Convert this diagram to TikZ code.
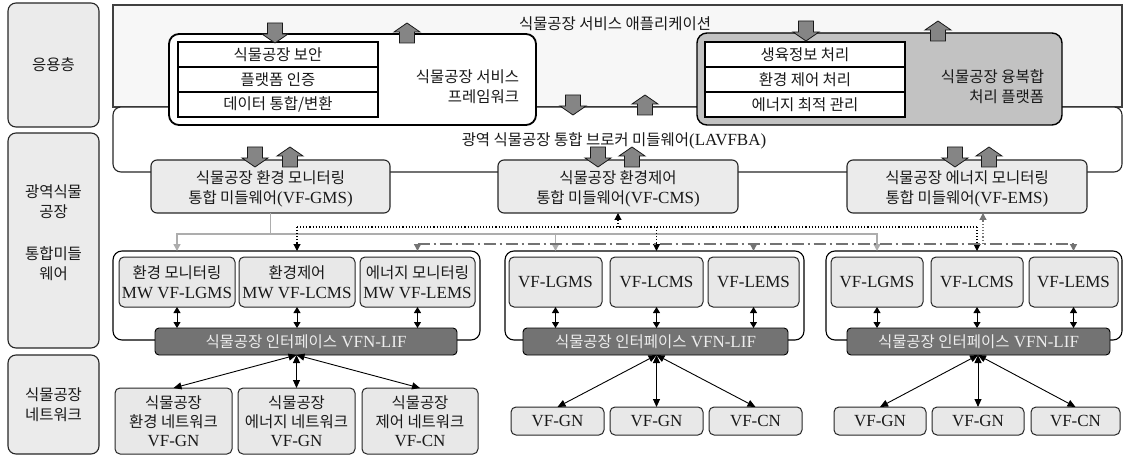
\documentclass[tikz,border=0pt]{standalone}
\usepackage{fontspec}
\setmainfont{Liberation Serif}
\newfontfamily\kr[Scale=0.91]{Noto Sans CJK KR}
\usetikzlibrary{arrows.meta}
\newcommand\Kor[1]{{\kr #1}}
% \bnode{style}{name}{x1}{y1}{x2}{y2}{text}
\newcommand\bnode[7]{%
  \pgfmathsetmacro\rbw{#5-#3}\pgfmathsetmacro\rbh{#6-#4}%
  \pgfmathsetmacro\rbx{(#3+#5)/2}\pgfmathsetmacro\rby{(#4+#6)/2}%
  \node[#1, minimum width=\rbw pt, minimum height=\rbh pt] (#2) at (\rbx,\rby) {#7};}
% block arrows: x, top y, bottom y
\newcommand\blkdown[3]{\draw[blk] ({#1-7.5},#2) -- ({#1+7.5},#2) -- ({#1+7.5},{#3-9}) -- ({#1+13},{#3-9}) -- (#1,#3) -- ({#1-13},{#3-9}) -- ({#1-7.5},{#3-9}) -- cycle;}
\newcommand\blkup[3]{\draw[blk] (#1,#2) -- ({#1+13},{#2+9}) -- ({#1+7.5},{#2+9}) -- ({#1+7.5},#3) -- ({#1-7.5},#3) -- ({#1-7.5},{#2+9}) -- ({#1-13},{#2+9}) -- cycle;}
\begin{document}
\begin{tikzpicture}[x=1pt,y=-1pt,
  base/.style={inner sep=0pt, outer sep=0pt, align=center, text=black!90, font=\fontsize{17}{20}\selectfont},
  txt/.style={base},
  lbox/.style={base, draw=black!85, line width=1.1pt, rounded corners=8pt, fill=black!8},
  appbox/.style={base, draw=black!75, line width=1.1pt, fill=black!3},
  brkbox/.style={base, draw=black!85, line width=1.1pt, rounded corners=8pt, fill=white},
  svcbox/.style={base, draw=black, line width=1.8pt, rounded corners=10pt, fill=white},
  platbox/.style={base, draw=black, line width=1.4pt, rounded corners=10pt, fill=black!24},
  tab/.style={base, draw=black, line width=1.1pt, fill=white},
  mwbox/.style={base, draw=black!85, line width=1.1pt, rounded corners=6pt, fill=black!8},
  grpbox/.style={base, draw=black, line width=1.1pt, rounded corners=9pt, fill=white},
  cbox/.style={base, draw=black!85, line width=1pt, rounded corners=5pt, fill=black!9},
  netbox/.style={cbox, font=\fontsize{17}{19}\selectfont},
  lifbar/.style={base, draw=black, line width=0.9pt, rounded corners=4pt, fill=black!55, text=black!7},
  blk/.style={fill=black!48, draw=black!90, line width=0.8pt, line join=miter},
  gl/.style={draw=black!32, line width=1.5pt},
  glarr/.style={gl, -{Triangle[width=7pt,length=7pt]}},
  dotl/.style={draw=black, line width=1.1pt, dotted},
  dotarr/.style={dotl, -{Triangle[width=7pt,length=7pt]}},
  ddl/.style={draw=black!55, line width=1.8pt, dash pattern=on 12pt off 4pt on 2pt off 4pt},
  ddarr/.style={draw=black!55, line width=1.4pt, -{Triangle[width=7pt,length=7pt]}},
  emsarr/.style={draw=black!55, line width=1.2pt, dotted, -{Triangle[width=7pt,length=7pt]}},
  dbl/.style={draw=black, line width=1pt, {Triangle[width=7pt,length=6pt]}-{Triangle[width=7pt,length=6pt]}},
  dbltwo/.style={draw=black, line width=0.9pt, {Triangle[width=7pt,length=8pt]}-{Triangle[width=7pt,length=8pt]}}
]
\useasboundingbox (0,0) rectangle (1127,457);

% left column
\bnode{lbox}{L1}{8}{3}{99}{127}{\Kor{응용층}}
\bnode{lbox}{L2}{8}{133}{99}{348}{}
\node[txt] (L2t) at (53.5,232.5) {\Kor{광역식물}\\\Kor{공장}\\[22pt]\Kor{통합미들}\\\Kor{웨어}};
\bnode{lbox}{L3}{8}{355}{99}{454}{\Kor{식물공장}\\\Kor{네트워크}}

% application and broker
\bnode{appbox}{APP}{113}{5}{1122}{107}{}
\node[txt] (APPt) at (615,24) {\Kor{식물공장 서비스 애플리케이션}};
\bnode{brkbox}{BRK}{113}{107}{1122}{172}{}
\node[txt] (BRKt) at (614,141) {\Kor{광역 식물공장 통합 브로커 미들웨어}(LAVFBA)};

% service framework
\bnode{svcbox}{SVC}{169}{34}{536}{125}{}
\bnode{tab}{SVC1}{178}{42}{378}{67}{\Kor{식물공장 보안}}
\bnode{tab}{SVC2}{178}{67}{378}{92}{\Kor{플랫폼 인증}}
\bnode{tab}{SVC3}{178}{92}{378}{117}{\Kor{데이터 통합/변환}}
\node[txt, align=right, anchor=east] (SVCt) at (519,86.5) {\Kor{식물공장 서비스}\\\Kor{프레임워크}};

% platform
\bnode{platbox}{PLT}{697}{33}{1062}{125}{}
\bnode{tab}{PLT1}{705}{42}{905}{67}{\Kor{생육정보 처리}}
\bnode{tab}{PLT2}{705}{67}{905}{92}{\Kor{환경 제어 처리}}
\bnode{tab}{PLT3}{705}{92}{905}{117}{\Kor{에너지 최적 관리}}
\node[txt, align=right, anchor=east] (PLTt) at (1044,86.5) {\Kor{식물공장 융복합}\\\Kor{처리 플랫폼}};

% integrated middleware
\bnode{mwbox}{GMS}{151}{160}{390}{213}{}
\bnode{mwbox}{CMS}{498}{160}{738}{213}{}
\bnode{mwbox}{EMS}{847}{160}{1087}{213}{}
\node[txt] (GMSt) at ([yshift=-2pt]GMS.center) {\Kor{식물공장 환경 모니터링}\\\Kor{통합 미들웨어}(VF-GMS)};
\node[txt] (CMSt) at ([yshift=-2pt]CMS.center) {\Kor{식물공장 환경제어}\\\Kor{통합 미들웨어}(VF-CMS)};
\node[txt] (EMSt) at ([yshift=-2pt]EMS.center) {\Kor{식물공장 에너지 모니터링}\\\Kor{통합 미들웨어}(VF-EMS)};

% block arrows
\blkdown{275}{23}{43}  \blkup{407}{23}{43}
\blkdown{806}{21}{41}  \blkup{938}{21}{41}
\blkdown{573}{95}{115} \blkup{645}{95}{115}
\blkdown{255}{147}{167} \blkup{290}{147}{167}
\blkdown{598}{147}{167} \blkup{632}{147}{167}
\blkdown{955}{147}{167} \blkup{989}{147}{167}

% groups
\bnode{grpbox}{G1}{113}{251}{480}{340}{}
\bnode{grpbox}{G2}{505}{251}{804}{340}{}
\bnode{grpbox}{G3}{826}{251}{1122}{340}{}

\bnode{cbox}{LGMS1}{119}{257}{235}{307}{\Kor{환경 모니터링}\\MW VF-LGMS}
\bnode{cbox}{LCMS1}{239}{257}{355}{307}{\Kor{환경제어}\\MW VF-LCMS}
\bnode{cbox}{LEMS1}{360}{257}{475}{307}{\Kor{에너지 모니터링}\\MW VF-LEMS}

\bnode{cbox}{LGMS2}{509}{257}{602}{307}{VF-LGMS}
\bnode{cbox}{LCMS2}{610}{257}{703}{307}{VF-LCMS}
\bnode{cbox}{LEMS2}{708}{257}{799}{307}{VF-LEMS}

\bnode{cbox}{LGMS3}{831}{257}{923}{307}{VF-LGMS}
\bnode{cbox}{LCMS3}{931}{257}{1023}{307}{VF-LCMS}
\bnode{cbox}{LEMS3}{1029}{257}{1118}{307}{VF-LEMS}

\bnode{lifbar}{LIF1}{155}{328}{457}{355}{\Kor{식물공장 인터페이스} VFN-LIF}
\bnode{lifbar}{LIF2}{523}{328}{788}{355}{\Kor{식물공장 인터페이스} VFN-LIF}
\bnode{lifbar}{LIF3}{847}{328}{1110}{355}{\Kor{식물공장 인터페이스} VFN-LIF}

% networks
\bnode{netbox}{N1a}{115}{388}{232}{454}{\Kor{식물공장}\\\Kor{환경 네트워크}\\VF-GN}
\bnode{netbox}{N1b}{238}{388}{355}{454}{\Kor{식물공장}\\\Kor{에너지 네트워크}\\VF-GN}
\bnode{netbox}{N1c}{362}{388}{478}{454}{\Kor{식물공장}\\\Kor{제어 네트워크}\\VF-CN}

\bnode{netbox}{N2a}{511}{407}{604}{435}{VF-GN}
\bnode{netbox}{N2b}{610}{407}{703}{435}{VF-GN}
\bnode{netbox}{N2c}{709}{407}{802}{435}{VF-CN}

\bnode{netbox}{N3a}{834}{407}{926}{435}{VF-GN}
\bnode{netbox}{N3b}{932}{407}{1024}{435}{VF-GN}
\bnode{netbox}{N3c}{1031}{407}{1120}{435}{VF-CN}

% bus coordinates
\coordinate (dotbus) at (0,227);
\coordinate (gbus) at (0,234);
\coordinate (ddbus) at (0,244);
\coordinate (emsup) at (983,244);

% gray solid connector from VF-GMS
\draw[glarr] (GMS.south) -- (GMS.south |- gbus) -| (LGMS1.north |- G1.north);
\draw[glarr] (GMS.south) -- (GMS.south |- gbus) -| (LGMS2.north |- G2.north);
\draw[glarr] (GMS.south) -- (GMS.south |- gbus) -| (LGMS3.north |- G3.north);

% dotted connector to VF-CMS
\draw[dotl] (LCMS1.north |- dotbus) -- (LCMS3.north |- dotbus);
\draw[dotarr] (LCMS1.north |- dotbus) -- (LCMS1.north |- G1.north);
\draw[dotarr] (LCMS2.north |- dotbus) -- (LCMS2.north |- G2.north);
\draw[dotarr] (LCMS3.north |- dotbus) -- (LCMS3.north |- G3.north);
\draw[dotarr] (CMS.south |- dotbus) -- (CMS.south);

% dash-dot connector to VF-EMS
\draw[ddl] (LEMS1.north |- ddbus) -- (LEMS3.north |- ddbus);
\draw[ddarr] (LEMS1.north |- ddbus) -- (LEMS1.north |- G1.north);
\draw[ddarr] (LEMS2.north |- ddbus) -- (LEMS2.north |- G2.north);
\draw[ddarr] (LEMS3.north |- ddbus) -- (LEMS3.north |- G3.north);
\draw[emsarr] (emsup) -- (emsup |- EMS.south);

% local middleware <-> interface
\foreach \n/\g in {LGMS1/LIF1,LCMS1/LIF1,LEMS1/LIF1,LGMS2/LIF2,LCMS2/LIF2,LEMS2/LIF2,LGMS3/LIF3,LCMS3/LIF3,LEMS3/LIF3}
  \draw[dbl] (\n.south) -- (\n.south |- \g.north);

% interface <-> networks
\draw[dbltwo] (N1b |- LIF1.south) -- (N1a.north);
\draw[dbltwo] (N1b |- LIF1.south) -- (N1b.north);
\draw[dbltwo] (N1b |- LIF1.south) -- (N1c.north);
\draw[dbltwo] (N2b |- LIF2.south) -- (N2a.north);
\draw[dbltwo] (N2b |- LIF2.south) -- (N2b.north);
\draw[dbltwo] (N2b |- LIF2.south) -- (N2c.north);
\draw[dbltwo] (N3b |- LIF3.south) -- (N3a.north);
\draw[dbltwo] (N3b |- LIF3.south) -- (N3b.north);
\draw[dbltwo] (N3b |- LIF3.south) -- (N3c.north);
\end{tikzpicture}
\end{document}
